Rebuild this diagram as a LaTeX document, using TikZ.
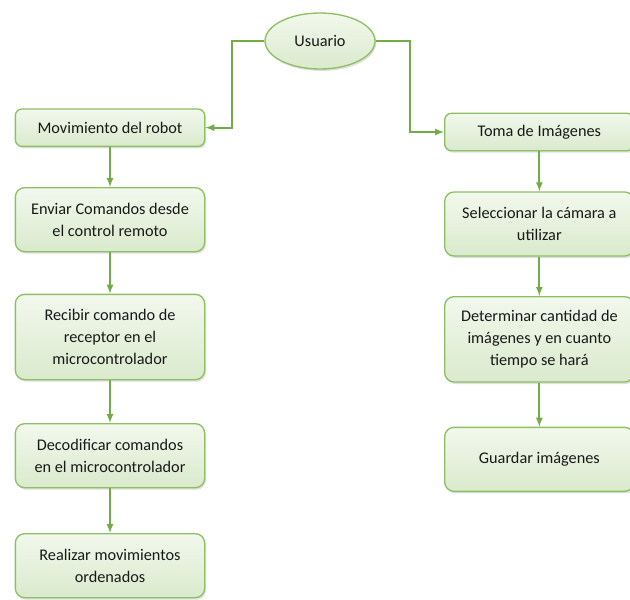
\documentclass[tikz,border=0pt]{standalone}
\usepackage{fontspec}
\setmainfont{Carlito}
\usepackage{tikz}
\usetikzlibrary{shapes.geometric, arrows, shadows}
\definecolor{boxfill}{RGB}{218,234,205}
\definecolor{boxtop}{RGB}{242,248,237}
\definecolor{boxline}{RGB}{141,192,99}
\definecolor{linkgreen}{RGB}{112,173,71}
\tikzstyle{user} = [ellipse, minimum width=82.5pt, minimum height=42pt, text centered, draw=boxline, line width=1pt, top color=boxtop, bottom color=boxfill, drop shadow={opacity=0.25, shadow xshift=1pt, shadow yshift=-1.5pt}, text=black!90, font=\fontsize{12.2}{16.5}\selectfont]
\tikzstyle{headbox} = [rectangle, rounded corners=5pt, minimum width=142pt, minimum height=28pt, align=center, draw=boxline, line width=1pt, top color=boxtop, bottom color=boxfill, drop shadow={opacity=0.25, shadow xshift=1pt, shadow yshift=-1.5pt}, text=black!90, font=\fontsize{12.2}{16.5}\selectfont]
\tikzstyle{process} = [headbox, rounded corners=7pt, minimum height=48pt]
\tikzstyle{longprocess} = [process, minimum height=64pt]
\tikzstyle{arrow} = [line width=1.3pt, draw=linkgreen, ->, >=latex]

\begin{document}
\begin{tikzpicture}[node distance=69pt]
        \useasboundingbox (0,0) rectangle (472.5pt,-449.25pt);

        \node (usuario) [user] at (240pt,-30.75pt) {Usuario};

        % rama izquierda
        \node (movimiento) [headbox, below of=usuario, xshift=-157.5pt, yshift=4pt] {Movimiento del robot};
        \node (enviar) [process, below of=movimiento] {Enviar Comandos desde\\el control remoto};
        \node (recibir) [longprocess, below of=enviar, yshift=-19pt] {Recibir comando de\\receptor en el\\microcontrolador};
        \node (decodificar) [process, below of=recibir, yshift=-20pt] {Decodificar comandos\\en el microcontrolador};
        \node (realizar) [process, below of=decodificar, yshift=-13.5pt] {Realizar movimientos\\ordenados};

        % rama derecha
        \node (toma) [headbox, below of=usuario, xshift=164.5pt, yshift=0.75pt] {Toma de Imágenes};
        \node (seleccionar) [process, below of=toma] {Seleccionar la cámara a\\utilizar};
        \node (determinar) [longprocess, below of=seleccionar, yshift=-17.5pt] {Determinar cantidad de\\imágenes y en cuanto\\tiempo se hará};
        \node (guardar) [process, below of=determinar, yshift=-21pt] {Guardar imágenes};

        \draw [arrow] (usuario.west) -- ++(-24pt,0) |- (movimiento.east);
        \draw [arrow] (usuario.east) -- ++(25.5pt,0) |- (toma.west);

        \draw [arrow] (movimiento) -- (enviar);
        \draw [arrow] (enviar) -- (recibir);
        \draw [arrow] (recibir) -- (decodificar);
        \draw [arrow] (decodificar) -- (realizar);

        \draw [arrow] (toma) -- (seleccionar);
        \draw [arrow] (seleccionar) -- (determinar);
        \draw [arrow] (determinar) -- (guardar);
    \end{tikzpicture}
\end{document}
